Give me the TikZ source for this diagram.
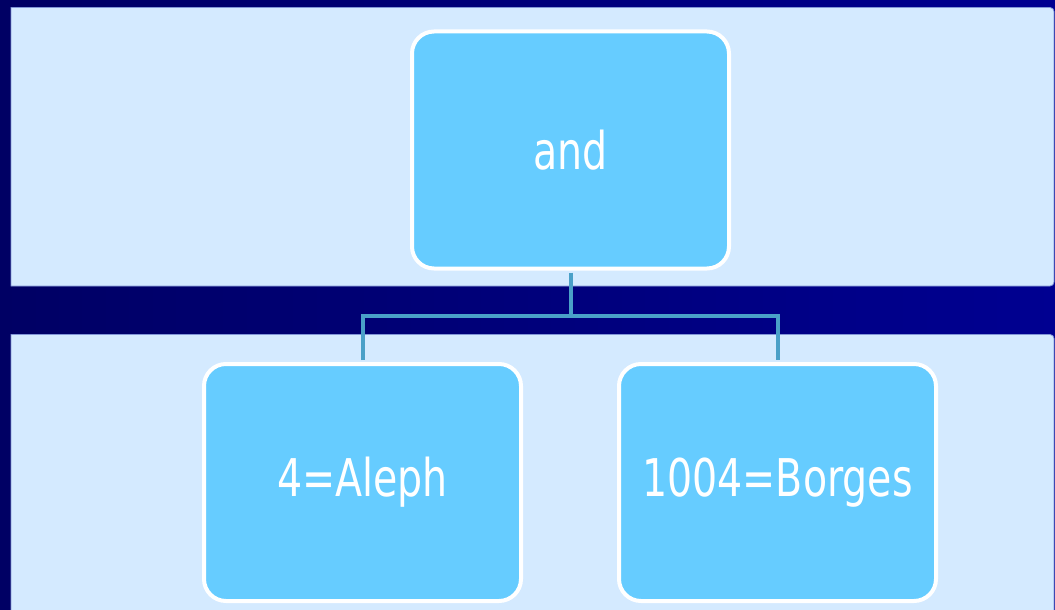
\documentclass[tikz,border=0pt]{standalone}
\usepackage{fontspec}
\newfontfamily\boxfont[FakeStretch=0.76]{DejaVu Sans}
\definecolor{navyL}{RGB}{0,0,100}
\definecolor{navyR}{RGB}{0,0,145}
\definecolor{bandfill}{RGB}{212,234,255}
\definecolor{bandedge}{RGB}{130,150,215}
\definecolor{boxfill}{RGB}{102,204,255}
\definecolor{linkcol}{RGB}{74,160,200}
\tikzset{
  band/.style={fill=bandfill, draw=bandedge, line width=0.8pt},
  termbox/.style={rectangle, rounded corners=22pt, fill=boxfill, draw=white,
    line width=4pt, minimum width=317pt, minimum height=237pt, inner sep=0pt,
    text=white, font=\boxfont\fontsize{52}{60}\selectfont},
  link/.style={draw=linkcol, line width=4pt}
}
\begin{document}
\begin{tikzpicture}[x=1pt,y=-1pt]
  % page area and backdrop
  \useasboundingbox (0,0) rectangle (1055,610);
  \clip (0,0) rectangle (1055,610);
  \shade[left color=navyL, right color=navyR] (0,0) rectangle (1055,610);
  % the two rows
  \draw[band] (11,7.5) -- (1050,7.5) arc[start angle=90, end angle=0, radius=4pt]
     -- (1054,282) arc[start angle=0, end angle=-90, radius=4pt] -- (11,286) -- cycle;
  \draw[band] (11,334.5) -- (1050,334.5) arc[start angle=90, end angle=0, radius=4pt]
     -- (1054,620) -- (11,620) -- cycle;
  % tree nodes
  \node[termbox] (root) at (570.5,150) {and};
  \node[termbox] (aleph) at (362.5,482.5) {4=Aleph};
  \node[termbox] (borges) at (777.5,482.5) {1004=Borges};
  % connectors
  \coordinate (fork) at (570.5,316);
  \draw[link, shorten <=2pt] (root.south) -- (fork);
  \draw[link, shorten <=2pt, shorten >=2pt] (aleph.north) |- (fork) -| (borges.north);
\end{tikzpicture}
\end{document}
